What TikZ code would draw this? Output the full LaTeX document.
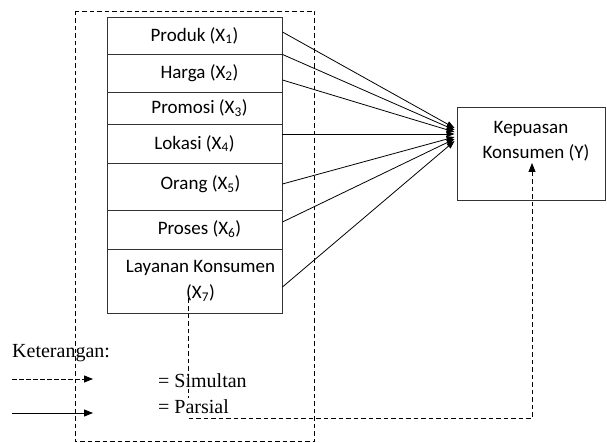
\documentclass[tikz,border=0pt]{standalone}
\usepackage{fontspec}
\setmainfont{Carlito}
\newfontfamily\legendfont{Liberation Serif}
\usetikzlibrary{arrows.meta}
\begin{document}
\begin{tikzpicture}[x=1pt,y=-1pt,
  cell/.style={draw=black!80,line width=0.9pt,minimum width=175pt,inner sep=0pt,
    font=\fontsize{19}{26}\selectfont,align=center},
  solidarrow/.style={line width=0.8pt,-{Triangle[length=8pt,width=6pt]}},
  dasharrow/.style={line width=0.8pt,dash pattern=on 4.5pt off 3pt,-{Triangle[length=9pt,width=7pt]}},
  legend/.style={font=\legendfont\fontsize{20}{24}\selectfont,inner sep=0pt,anchor=west}]
\useasboundingbox (0,0) rectangle (607,443);
% outer dashed frame
\draw[line width=0.8pt,dash pattern=on 4.5pt off 3pt] (75,11) rectangle (314.5,441);
% variable cells
\node[cell,minimum height=37pt] (r1) at (194.5,35.5) {Produk (X\textsubscript{1})};
\node[cell,minimum height=38pt] (r2) at (194.5,73) {\hspace*{10pt}Harga (X\textsubscript{2})};
\node[cell,minimum height=32pt] (r3) at (194.5,108) {\hspace*{10pt}Promosi (X\textsubscript{3})};
\node[cell,minimum height=39pt] (r4) at (194.5,143.5) {\raisebox{1.5pt}{Lokasi (X\textsubscript{4})}};
\node[cell,minimum height=47pt] (r5) at (194.5,186.5) {\hspace*{12pt}\raisebox{7pt}{Orang (X\textsubscript{5})}};
\node[cell,minimum height=39pt] (r6) at (194.5,229.5) {\hspace*{10pt}Proses (X\textsubscript{6})};
\node[cell,minimum height=64pt] (r7) at (194.5,281) {\hspace*{12pt}Layanan Konsumen\\\hspace*{12pt}(X\textsubscript{7})};
% dependent variable
\node[draw=black!80,line width=0.9pt,minimum width=148pt,minimum height=93pt,
  font=\fontsize{19}{27}\selectfont,align=center,inner sep=0pt] (K) at (531,153.5)
  {\raisebox{-5.5pt}[0pt][0pt]{\shortstack{Kepuasan\\[6pt]\hspace*{10pt}Konsumen (Y)}}};
% partial arrows
\draw[solidarrow] ([yshift=3.5pt]r1.east) -- ([xshift=-2pt,yshift=25.5pt]K.west);
\draw[solidarrow] (r1.south east) -- ([xshift=-2pt,yshift=23.5pt]K.west);
\draw[solidarrow] ([yshift=-7pt]r2.east) -- ([xshift=-2pt,yshift=21.5pt]K.west);
\draw[solidarrow] ([yshift=9.5pt]r4.east) -- ([xshift=-2pt,yshift=19.5pt]K.west);
\draw[solidarrow] ([yshift=2.5pt]r5.east) -- ([xshift=-2pt,yshift=16.5pt]K.west);
\draw[solidarrow] ([yshift=7.5pt]r6.east) -- ([xshift=-2pt,yshift=14.5pt]K.west);
\draw[solidarrow] ([yshift=-6pt]r7.east) -- ([xshift=-2pt,yshift=12.5pt]K.west);
% simultaneous arrow
\coordinate (d0) at (188,291);
\coordinate (d1) at (532,163);
\draw[dasharrow] (d0) |- (d1 |- 0,418) -- (d1);
% legend
\node[legend] (ket) at (12,353) {Keterangan:};
\coordinate (l1a) at (12,379);
\coordinate (l1b) at (93,379);
\coordinate (l2a) at (12,413);
\coordinate (l2b) at (93,413);
\draw[dasharrow,dash pattern=on 4.5pt off 2.5pt] (l1a) -- (l1b);
\draw[solidarrow,-{Triangle[length=9pt,width=7pt]}] (l2a) -- (l2b);
\node[legend] (sim) at (158,381) {= Simultan};
\node[legend,fill=white,inner ysep=2pt] (par) at (158,407) {= Parsial};
\end{tikzpicture}
\end{document}
